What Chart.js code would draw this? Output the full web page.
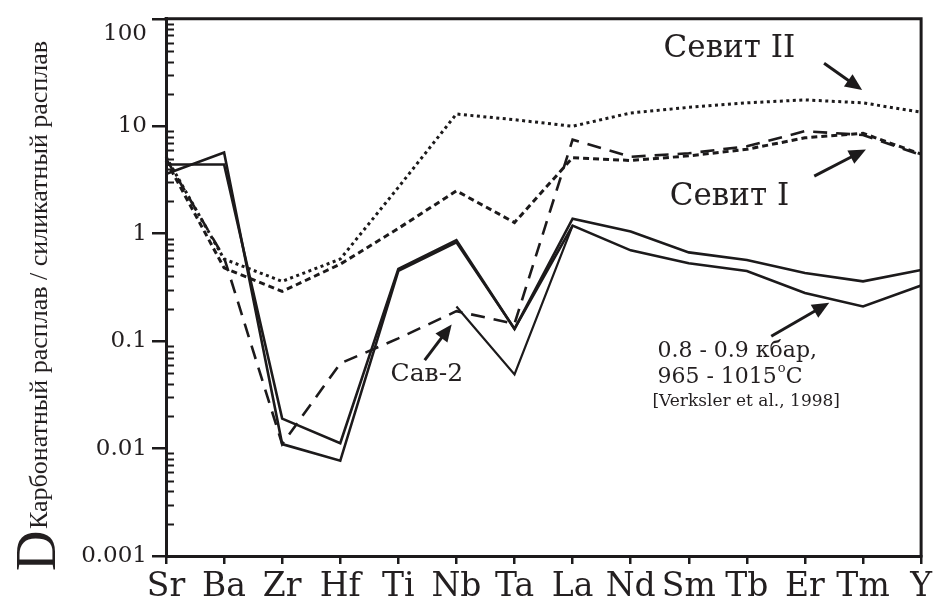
<!DOCTYPE html>
<html>
<head>
<meta charset="utf-8">
<script src="https://cdn.jsdelivr.net/npm/chart.js@4.4.1/dist/chart.umd.min.js"></script>
<style>
  html, body { margin: 0; padding: 0; background: #ffffff; }
  #wrap { width: 936px; height: 606px; }
</style>
</head>
<body>
<div id="wrap"><canvas id="chart" width="936" height="606"></canvas></div>
<script>
// Elements along the x axis
const elements = ['Sr', 'Ba', 'Zr', 'Hf', 'Ti', 'Nb', 'Ta', 'La', 'Nd', 'Sm', 'Tb', 'Er', 'Tm', 'Y'];

// Partition coefficients D (carbonate melt / silicate melt)
const sevitII   = [5.2, 0.58, 0.36, 0.58, 2.7, 13.0, 11.5, 10.0, 13.3, 15.0, 16.5, 17.6, 16.5, 13.5];
const sevitI    = [4.8, 0.48, 0.29, 0.52, 1.12, 2.5, 1.27, 5.1, 4.8, 5.3, 6.1, 7.8, 8.6, 5.5];
const sav2      = [5.0, 0.60, 0.011, 0.062, 0.106, 0.19, 0.145, 7.5, 5.2, 5.6, 6.5, 9.0, 8.3, 5.4];
const verksler1 = [4.4, 4.4, 0.019, 0.0112, 0.47, 0.87, 0.13, 1.38, 1.05, 0.67, 0.57, 0.43, 0.36, 0.46];
const verksler2 = [3.6, 5.7, 0.011, 0.0077, 0.45, 0.83, 0.13, 1.19, 0.70, 0.53, 0.45, 0.28, 0.21, 0.33];
const verkslerNbTa = [null, null, null, null, null, 0.21, 0.049, 1.19, null, null, null, null, null, null];

// Y axis decades and their labels
const yTickValues = [0.001, 0.01, 0.1, 1, 10, 100];
const yTickLabels = ['0.001', '0.01', '0.1', '1', '10', '100'];

// Axis title
const yTitleMain = 'D';
const yTitleSub = 'Карбонатный расплав / силикатный расплав';

// Annotation texts
const labelSevitII = 'Севит II';
const labelSevitI = 'Севит I';
const labelSav2 = 'Сав-2';
const labelPressure = '0.8 - 0.9 кбар,';
const labelTemp = '965 - 1015';
const labelTempUnit = 'C';
const labelRef = '[Verksler et al., 1998]';

const INK = '#1c1a1b';
const TEXT = '#231f20';

// Small drawing helpers -------------------------------------------------
function pt(chart, idx, val) {
  return [chart.scales.x.getPixelForValue(idx), chart.scales.y.getPixelForValue(val)];
}

function arrow(ctx, from, to) {
  const dx = to[0] - from[0], dy = to[1] - from[1];
  const len = Math.hypot(dx, dy);
  const ux = dx / len, uy = dy / len;
  const head = 17, half = 7.5;
  const bx = to[0] - ux * head, by = to[1] - uy * head;
  ctx.save();
  ctx.strokeStyle = INK;
  ctx.fillStyle = INK;
  ctx.lineWidth = 3;
  ctx.beginPath();
  ctx.moveTo(from[0], from[1]);
  ctx.lineTo(bx + ux * 2, by + uy * 2);
  ctx.stroke();
  ctx.beginPath();
  ctx.moveTo(to[0], to[1]);
  ctx.lineTo(bx - uy * half, by + ux * half);
  ctx.lineTo(bx + uy * half, by - ux * half);
  ctx.closePath();
  ctx.fill();
  ctx.restore();
}

// Frame on top/right, inner minor ticks on the log axis
const framePlugin = {
  id: 'frame',
  afterDraw(chart) {
    const { ctx, chartArea: a } = chart;
    const y = chart.scales.y;
    ctx.save();
    ctx.strokeStyle = INK;
    ctx.lineCap = 'square';
    ctx.lineWidth = 3;
    ctx.beginPath();
    ctx.moveTo(a.left, a.top);
    ctx.lineTo(a.right, a.top);
    ctx.lineTo(a.right, a.bottom);
    ctx.stroke();

    ctx.lineCap = 'butt';
    ctx.lineWidth = 2;
    for (let k = -3; k <= 1; k++) {
      for (let m = 2; m <= 9; m++) {
        const py = Math.round(y.getPixelForValue(m * Math.pow(10, k))) + 0.5;
        ctx.beginPath();
        ctx.moveTo(a.left, py);
        ctx.lineTo(a.left + 8, py);
        ctx.stroke();
      }
    }

    // the top decade label sits a little below its tick
    ctx.fillStyle = TEXT;
    ctx.font = '23px "DejaVu Serif"';
    ctx.textAlign = 'right';
    ctx.textBaseline = 'middle';
    ctx.fillText(yTickLabels[yTickLabels.length - 1], a.left - 19, y.getPixelForValue(100) + 15);
    ctx.restore();
  }
};

// Rotated axis title: large D with its subscript
const yTitlePlugin = {
  id: 'ytitle',
  afterDraw(chart) {
    const ctx = chart.ctx;
    ctx.save();
    ctx.rotate(-Math.PI / 2);
    ctx.fillStyle = TEXT;
    ctx.textBaseline = 'alphabetic';
    ctx.textAlign = 'left';
    ctx.font = '56px "Liberation Serif"';
    ctx.fillText(yTitleMain, -571, 55);
    ctx.font = '26px "Liberation Serif"';
    ctx.fillText(yTitleSub, -529, 47);
    ctx.restore();
  }
};

// Labels and arrows inside the plot
const notesPlugin = {
  id: 'notes',
  afterDraw(chart) {
    const ctx = chart.ctx;
    ctx.save();
    ctx.fillStyle = TEXT;
    ctx.textBaseline = 'middle';

    ctx.textAlign = 'center';
    ctx.font = '31px "DejaVu Serif"';
    let p = pt(chart, 9.70, 52);
    ctx.fillText(labelSevitII, p[0], p[1]);
    p = pt(chart, 9.70, 2.2);
    ctx.fillText(labelSevitI, p[0], p[1]);

    ctx.font = '25px "DejaVu Serif"';
    p = pt(chart, 4.49, 0.049);
    ctx.fillText(labelSav2, p[0], p[1]);

    ctx.textAlign = 'left';
    ctx.font = '22px "DejaVu Serif"';
    p = pt(chart, 8.46, 0.0805);
    ctx.fillText(labelPressure, p[0], p[1]);
    p = pt(chart, 8.46, 0.0465);
    ctx.fillText(labelTemp, p[0], p[1]);
    const w = ctx.measureText(labelTemp).width;
    ctx.font = '13px "DejaVu Serif"';
    ctx.fillText('o', p[0] + w + 1, p[1] - 8);
    const wo = ctx.measureText('o').width;
    ctx.font = '22px "DejaVu Serif"';
    ctx.fillText(labelTempUnit, p[0] + w + wo + 1, p[1]);
    ctx.font = '17px "DejaVu Serif"';
    p = pt(chart, 8.374, 0.0273);
    ctx.fillText(labelRef, p[0], p[1]);
    ctx.restore();

    arrow(ctx, pt(chart, 11.33, 38.5), pt(chart, 11.985, 21.7));
    arrow(ctx, pt(chart, 11.16, 3.43), pt(chart, 12.05, 6.09));
    arrow(ctx, pt(chart, 4.454, 0.0665), pt(chart, 4.918, 0.143));
    arrow(ctx, pt(chart, 10.42, 0.111), pt(chart, 11.418, 0.2275));
  }
};

function series(label, data, dash, width) {
  return {
    label, data,
    borderColor: INK,
    borderWidth: width,
    borderDash: dash,
    borderCapStyle: 'butt',
    borderJoinStyle: 'miter',
    pointRadius: 0,
    tension: 0,
    fill: false,
    spanGaps: false
  };
}

new Chart(document.getElementById('chart').getContext('2d'), {
  type: 'line',
  data: {
    labels: elements,
    datasets: [
      series('Севит II', sevitII, [3, 3.5], 3),
      series('Севит I', sevitI, [6, 4], 3),
      series('Сав-2', sav2, [14, 9], 2.6),
      series('Verksler 1', verksler1, [], 2.6),
      series('Verksler 2', verksler2, [], 2.6),
      series('Verksler Nb-Ta', verkslerNbTa, [], 2.2)
    ]
  },
  options: {
    responsive: false,
    animation: false,
    devicePixelRatio: 1,
    layout: { padding: { top: 13, right: 14, left: 0, bottom: 0 } },
    plugins: { legend: { display: false }, tooltip: { enabled: false }, title: { display: false } },
    scales: {
      x: {
        type: 'category',
        offset: false,
        grid: { drawOnChartArea: false, drawTicks: true, tickLength: 8, color: INK, lineWidth: 2.5 },
        border: { color: INK, width: 3 },
        ticks: {
          color: TEXT,
          font: { family: 'DejaVu Serif', size: 33 },
          padding: 4,
          maxRotation: 0,
          minRotation: 0,
          autoSkip: false
        },
        afterFit(scale) { scale.height = 50; }
      },
      y: {
        type: 'logarithmic',
        min: 0.001,
        max: 100,
        afterBuildTicks(scale) {
          scale.ticks = yTickValues.map(v => ({ value: v, major: true }));
        },
        grid: { drawOnChartArea: false, drawTicks: true, tickLength: 14, color: INK, lineWidth: 2.5 },
        border: { color: INK, width: 3 },
        ticks: {
          color: TEXT,
          font: { family: 'DejaVu Serif', size: 23 },
          padding: 5,
          autoSkip: false,
          callback(value) {
            const i = yTickValues.findIndex(v => Math.abs(Math.log10(v) - Math.log10(value)) < 1e-6);
            if (i < 0 || i === yTickValues.length - 1) return '';
            return yTickLabels[i];
          }
        },
        afterFit(scale) { scale.width = 166; }
      }
    }
  },
  plugins: [framePlugin, yTitlePlugin, notesPlugin]
});
</script>
</body>
</html>
